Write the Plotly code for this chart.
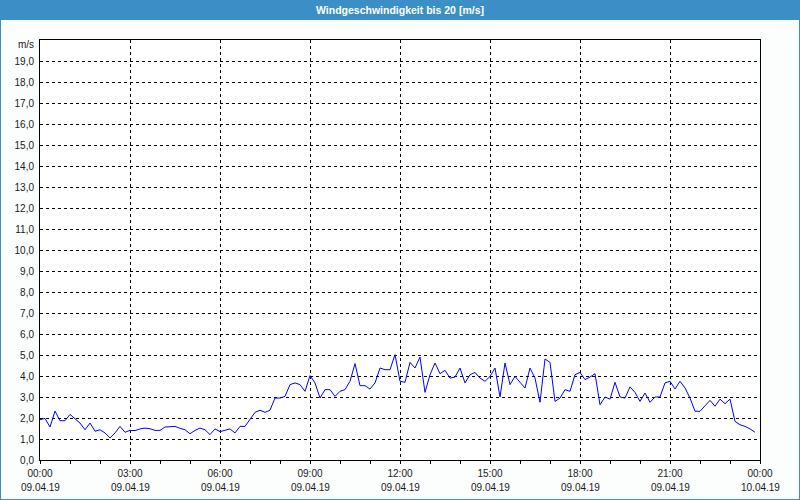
import datetime as dt
import plotly.graph_objects as go

# ---- data (10-minute values, 09.04.19 00:00 .. 23:50) ----
start_time = "2019-04-09 00:00"
step_minutes = 10
wind_ms = [
    # 00:00 - 05:50
    1.92, 1.98, 1.57, 2.33, 1.87, 1.87, 2.17, 1.98, 1.76, 1.44, 1.76, 1.37,
    1.44, 1.29, 1.05, 1.29, 1.60, 1.32, 1.41, 1.40, 1.48, 1.52, 1.49, 1.41,
    1.41, 1.57, 1.57, 1.60, 1.51, 1.44, 1.25, 1.41, 1.52, 1.44, 1.21, 1.48,
    # 06:00 - 11:50
    1.35, 1.41, 1.48, 1.29, 1.60, 1.60, 1.92, 2.27, 2.37, 2.27, 2.37, 2.95,
    2.95, 3.03, 3.59, 3.67, 3.59, 3.27, 4.02, 3.67, 2.95, 3.35, 3.35, 3.03,
    3.27, 3.35, 3.75, 4.59, 3.54, 3.54, 3.38, 3.67, 4.38, 4.30, 4.30, 5.02,
    # 12:00 - 17:50
    3.75, 3.70, 4.65, 4.38, 4.90, 3.22, 4.06, 4.62, 4.11, 4.27, 3.90, 3.95,
    4.38, 3.67, 4.06, 4.17, 3.90, 3.75, 3.98, 4.38, 3.00, 4.62, 3.59, 3.98,
    3.70, 3.43, 4.38, 3.90, 2.75, 4.81, 4.65, 2.79, 2.95, 3.35, 3.27, 4.06,
    # 18:00 - 23:50
    4.17, 3.83, 3.95, 4.11, 2.63, 3.00, 2.90, 3.70, 3.00, 2.95, 3.48, 3.22,
    2.79, 3.19, 2.75, 3.00, 3.00, 3.67, 3.75, 3.38, 3.75, 3.43, 2.95, 2.32,
    2.32, 2.56, 2.84, 2.56, 2.90, 2.68, 2.90, 1.84, 1.68, 1.60, 1.48, 1.32,
]
x_tick_times = ["2019-04-09 00:00", "2019-04-09 03:00", "2019-04-09 06:00",
                "2019-04-09 09:00", "2019-04-09 12:00", "2019-04-09 15:00",
                "2019-04-09 18:00", "2019-04-09 21:00", "2019-04-10 00:00"]
x_tick_hours = ["00:00", "03:00", "06:00", "09:00", "12:00",
                "15:00", "18:00", "21:00", "00:00"]
x_tick_dates = ["09.04.19", "09.04.19", "09.04.19", "09.04.19", "09.04.19",
                "09.04.19", "09.04.19", "09.04.19", "10.04.19"]
y_tick_vals = list(range(0, 20))
y_tick_labels = [f"{v},0" for v in y_tick_vals]
title_text = "<b>Windgeschwindigkeit bis 20 [m/s]</b>"
unit_label = "m/s"

t0 = dt.datetime.strptime(start_time, "%Y-%m-%d %H:%M")
times = [t0 + dt.timedelta(minutes=step_minutes * i) for i in range(len(wind_ms))]

BLUE_BAR = "#3c8fc6"
W, H = 800, 500
L, R, T, B = 40, 40, 40, 40
pw, ph = W - L - R, H - T - B

fig = go.Figure()
fig.add_trace(go.Scatter(x=times, y=wind_ms, mode="lines",
                         line=dict(color="#0000ff", width=1),
                         hoverinfo="skip", showlegend=False))

font = dict(family="Liberation Sans, Arial, sans-serif", size=10, color="#1a1a1a")

annotations = [
    dict(text=unit_label, xref="paper", yref="y", x=0, y=20,
         xanchor="right", yanchor="middle", xshift=-4, yshift=-4,
         showarrow=False, font=font),
]
for tv, dlabel in zip(x_tick_times, x_tick_dates):
    annotations.append(dict(text=dlabel, xref="x", yref="paper", x=tv, y=-27.5 / ph,
                            xanchor="center", yanchor="middle", showarrow=False,
                            font=font))

fig.update_layout(
    width=W, height=H,
    margin=dict(l=L, r=R, t=T, b=B, pad=0),
    paper_bgcolor="#fcfefd",
    plot_bgcolor="#ffffff",
    separators=",.",
    font=font,
    title=dict(text=title_text, x=0.5, xanchor="center", y=1 - 10 / H, yanchor="middle",
               font=dict(family="Liberation Sans, Arial, sans-serif", size=10.5, color="#ffffff")),
    xaxis=dict(
        type="date",
        range=["2019-04-09 00:00", "2019-04-10 00:00"],
        tickvals=x_tick_times, ticktext=x_tick_hours,
        ticks="outside", ticklen=3, tickcolor="#000000", tickwidth=1,
        ticklabelstandoff=1,
        minor=dict(dtick=3600000, ticks="outside", ticklen=3, tickcolor="#000000",
                   showgrid=False),
        showgrid=True, gridcolor="#000000", gridwidth=1, griddash="3px,3px",
        showline=True, linecolor="#000000", linewidth=1, mirror=True,
        zeroline=False, tickfont=font, fixedrange=True, automargin=False,
    ),
    yaxis=dict(
        range=[0, 20],
        tickvals=y_tick_vals, ticktext=y_tick_labels,
        ticks="", ticklabelstandoff=3,
        showgrid=True, gridcolor="#000000", gridwidth=1, griddash="3px,3px",
        showline=True, linecolor="#000000", linewidth=1, mirror=True,
        zeroline=False, tickfont=font, fixedrange=True, automargin=False,
    ),
    shapes=[
        # title bar
        dict(type="rect", xref="paper", yref="paper",
             x0=-L / pw, x1=1 + R / pw, y0=1 + (T - 20) / ph, y1=1 + T / ph,
             fillcolor=BLUE_BAR, line=dict(width=0), layer="below"),
        # outer frame
        dict(type="rect", xref="paper", yref="paper",
             x0=-L / pw, x1=1 + R / pw, y0=-B / ph, y1=1 + T / ph,
             fillcolor="rgba(0,0,0,0)", line=dict(color=BLUE_BAR, width=2)),
    ],
    annotations=annotations,
)

fig.write_html("out.html", config={"displayModeBar": False},
               post_script="document.body.style.margin='0';document.body.style.padding='0';")
